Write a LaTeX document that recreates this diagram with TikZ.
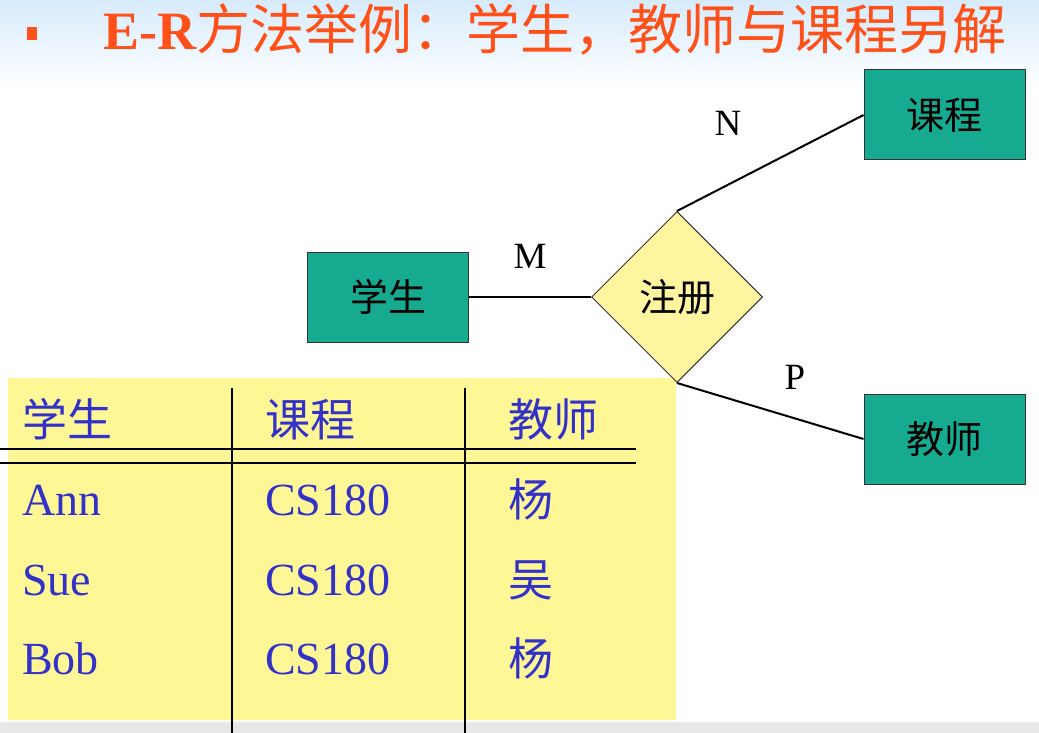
\documentclass[tikz,border=0pt]{standalone}
\usepackage{fontspec}
\setmainfont{Liberation Serif}
\newfontfamily\cjk{Noto Sans CJK SC}
\usetikzlibrary{shapes.geometric}

\definecolor{titlered}{RGB}{255,80,25}
\definecolor{entityteal}{RGB}{22,170,145}
\definecolor{relyellow}{RGB}{255,245,160}
\definecolor{tableyellow}{RGB}{255,247,150}
\definecolor{cellblue}{RGB}{50,50,200}
\definecolor{skyblue}{RGB}{215,235,252}

\tikzset{
  entity/.style={draw=black!80, line width=1pt, fill=entityteal,
    minimum width=161pt, minimum height=90pt, inner sep=0pt,
    font=\cjk\fontsize{38}{38}\selectfont},
  relation/.style={diamond, draw=black!80, line width=1pt, fill=relyellow,
    minimum width=171pt, minimum height=171pt, inner sep=0pt,
    font=\cjk\fontsize{38}{38}\selectfont},
  link/.style={line width=2pt, black},
  card/.style={font=\fontsize{37}{37}\selectfont, anchor=base},
  rule/.style={line width=1.3pt, black},
  celllatin/.style={anchor=base west, text=cellblue, inner sep=0pt,
    font=\fontsize{46}{46}\selectfont},
  cellcjk/.style={anchor=base west, text=cellblue, inner sep=0pt,
    font=\cjk\fontsize{45}{45}\selectfont},
}

\begin{document}
\begin{tikzpicture}[x=1pt,y=-1pt]
\useasboundingbox (0,0) rectangle (1039,733);
\fill[white] (0,0) rectangle (1039,733);

% pale sky band behind the heading
\shade[top color=skyblue, bottom color=white] (0,0) rectangle (1039,90);
% grey strip along the bottom edge
\fill[black!9] (0,722) rectangle (1039,733);

% heading
\fill[titlered] (27,27) rectangle (37,40);
\node[anchor=base west, inner sep=0pt, text=titlered,
  font=\fontsize{54}{54}\selectfont] (title) at (103,50)
  {\textbf{E-R}{\cjk 方法举例：学生，教师与课程另解}};

% table of sample tuples
\fill[tableyellow] (8,378) rectangle (676,720);
\draw[rule] (232,388) -- (232,733);
\draw[rule] (465,388) -- (465,733);
\draw[rule] (0,449) -- (636,449);
\draw[rule] (0,463) -- (636,463);

\node[cellcjk] (h1) at (22,436) {学生};
\node[cellcjk] (h2) at (265,436) {课程};
\node[cellcjk] (h3) at (508,436) {教师};

\node[celllatin] (r1a) at (22,515) {Ann};
\node[celllatin] (r1b) at (265,515) {CS180};
\node[cellcjk]   (r1c) at (508,516) {杨};
\node[celllatin] (r2a) at (22,595) {Sue};
\node[celllatin] (r2b) at (265,595) {CS180};
\node[cellcjk]   (r2c) at (508,596) {吴};
\node[celllatin] (r3a) at (22,674) {Bob};
\node[celllatin] (r3b) at (265,674) {CS180};
\node[cellcjk]   (r3c) at (508,675) {杨};

% E-R diagram
\node[entity]   (stu) at (388,297) {学生};
\node[entity]   (crs) at (944.5,115) {课程};
\node[entity]   (tch) at (944.5,439) {教师};
\node[relation] (reg) at (677,297) {注册};

\draw[link] (stu.east) -- (reg.west);
\draw[link] (reg.north) -- (crs.west);
\draw[link] (reg.south) -- (tch.west);

\node[card] (m) at (530,268) {M};
\node[card] (n) at (728,136) {N};
\node[card] (p) at (795,389) {P};
\end{tikzpicture}
\end{document}
